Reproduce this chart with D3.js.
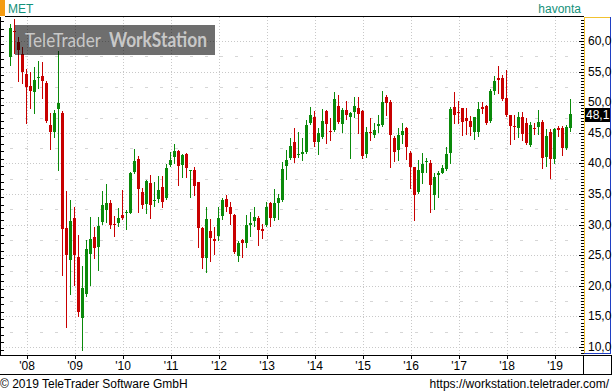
<!DOCTYPE html>
<html>
<head>
<meta charset="utf-8">
<script src="https://cdn.jsdelivr.net/npm/d3@7"></script>
<style>
html, body { margin: 0; padding: 0; background: #fff; }
svg { display: block; font-family: "Liberation Sans", Arial, sans-serif; }
</style>
</head>
<body>
<svg id="chart"></svg>
<script>
const WIDTH = 612;
const HEIGHT = 392;

// monthly candles, Sep 2007 .. May 2019
const FIRST_MONTH = new Date(2007, 8, 1);
const LAST_MONTH = new Date(2019, 4, 1);

const OPEN = [
  57.4, 61.6, 59.9, 57.8, 54.6, 52.7, 51.6, 54.0, 54.3, 53.1, 46.3, 45.2, 48.9, 48.2, 29.4, 24.2,
  31.1, 24.7, 14.7, 18.7, 25.2, 28.0, 26.3, 30.4, 32.4, 33.5, 30.1, 30.3, 31.6, 31.9, 31.9, 38.6,
  40.7, 35.3, 33.4, 36.8, 33.9, 34.2, 36.1, 34.3, 39.7, 41.0, 42.0, 39.7, 41.5, 38.8, 38.9, 37.0,
  29.4, 24.5, 29.0, 27.6, 28.1, 31.4, 34.2, 32.9, 31.6, 24.9, 27.5, 27.0, 30.0, 30.6, 31.1, 29.3,
  29.9, 33.5, 31.1, 33.5, 34.0, 39.6, 40.9, 43.5, 41.5, 41.5, 41.9, 46.6, 47.6, 43.5, 44.3, 48.5,
  45.3, 45.5, 49.4, 46.5, 48.8, 47.6, 48.4, 49.1, 48.5, 41.5, 45.1, 44.7, 46.1, 46.3, 50.9, 50.1,
  44.2, 42.2, 44.6, 45.8, 41.7, 39.4, 35.3, 38.4, 40.2, 40.1, 34.8, 38.1, 38.4, 39.1, 41.7, 49.2,
  48.4, 49.1, 47.4, 46.9, 45.1, 45.1, 49.2, 49.4, 46.9, 51.8, 54.0, 54.0, 50.7, 47.9, 46.1, 45.8,
  47.6, 46.6, 43.0, 45.8, 45.9, 46.8, 41.0, 45.1, 40.7, 45.8, 45.8, 42.5, 45.8
];
const HIGH = [
  62.8, 63.6, 60.7, 59.0, 55.4, 55.0, 55.8, 56.7, 56.6, 53.4, 48.3, 48.7, 58.4, 48.5, 35.5, 34.0,
  32.9, 28.3, 23.2, 27.5, 31.2, 29.6, 31.2, 35.5, 36.6, 34.0, 31.4, 32.7, 35.7, 32.4, 38.6, 42.4,
  41.2, 36.0, 37.3, 38.1, 37.0, 37.9, 37.9, 39.9, 41.9, 43.2, 42.2, 41.5, 41.7, 38.9, 39.4, 37.0,
  29.6, 32.9, 30.9, 29.6, 32.9, 34.3, 34.8, 33.7, 31.7, 27.3, 27.6, 31.6, 32.1, 32.9, 31.4, 30.1,
  33.7, 33.7, 35.8, 35.0, 40.2, 42.2, 44.1, 45.8, 45.1, 44.1, 47.1, 49.2, 48.6, 45.8, 48.9, 48.7,
  47.4, 51.7, 51.2, 49.1, 50.2, 48.4, 50.9, 50.9, 48.7, 45.9, 47.4, 46.6, 47.9, 51.8, 51.2, 50.4,
  44.5, 45.8, 46.6, 45.9, 42.0, 39.4, 40.6, 41.7, 40.9, 40.6, 38.4, 38.8, 39.7, 42.7, 49.2, 51.7,
  50.2, 49.1, 49.1, 47.7, 47.6, 50.0, 50.0, 49.5, 52.2, 54.3, 55.9, 54.4, 55.3, 47.9, 47.9, 48.4,
  48.4, 47.4, 46.8, 46.6, 48.7, 47.1, 45.6, 45.6, 45.8, 46.1, 46.1, 46.3, 50.5
];
const LOW = [
  56.1, 58.0, 53.4, 53.1, 46.6, 49.0, 48.2, 52.3, 50.7, 46.7, 42.4, 44.3, 38.9, 21.8, 13.3, 18.7,
  20.1, 15.1,  9.5, 18.3, 20.1, 24.5, 22.6, 30.1, 30.4, 29.4, 28.1, 29.8, 30.9, 29.3, 31.9, 38.4,
  32.1, 32.7, 31.9, 31.1, 33.0, 33.7, 32.9, 34.2, 39.6, 40.1, 36.5, 37.8, 37.8, 34.5, 34.8, 26.3,
  22.9, 22.3, 24.1, 25.2, 27.5, 30.9, 32.2, 30.1, 25.4, 24.1, 24.7, 26.3, 28.1, 29.8, 26.7, 27.8,
  29.8, 29.8, 30.8, 30.9, 33.9, 37.5, 40.7, 40.2, 41.0, 40.6, 41.7, 46.4, 42.8, 41.5, 44.2, 43.3,
  43.8, 45.3, 46.6, 45.1, 47.3, 40.9, 47.6, 45.0, 40.9, 41.0, 43.8, 44.3, 45.1, 46.1, 47.9, 39.4,
  40.4, 40.6, 43.3, 40.7, 36.0, 30.8, 35.2, 36.8, 38.6, 32.1, 32.5, 34.5, 38.4, 38.9, 40.1, 46.6,
  46.6, 44.6, 44.8, 44.6, 44.0, 44.5, 48.2, 46.4, 46.8, 51.3, 51.5, 50.4, 47.7, 43.2, 44.0, 44.3,
  43.8, 43.2, 42.8, 44.8, 44.8, 39.2, 39.6, 37.6, 40.1, 44.5, 41.4, 42.4, 45.3
];
const CLOSE = [
  62.2, 61.4, 58.5, 55.0, 52.5, 51.9, 53.6, 54.1, 53.5, 46.9, 45.2, 48.3, 49.8, 29.3, 25.0, 30.6,
  25.0, 15.7, 19.6, 26.0, 27.6, 26.2, 29.8, 33.2, 33.5, 29.9, 30.0, 31.1, 31.1, 32.1, 38.4, 40.4,
  35.8, 33.2, 37.1, 33.2, 34.0, 35.7, 33.7, 39.2, 40.6, 42.0, 39.6, 41.4, 39.2, 38.9, 36.3, 29.4,
  24.5, 30.9, 27.8, 27.4, 31.1, 34.0, 32.9, 31.7, 25.5, 27.0, 27.0, 29.9, 30.2, 31.2, 29.1, 29.0,
  32.9, 31.1, 33.5, 34.3, 39.1, 40.6, 42.8, 40.9, 41.6, 41.9, 46.3, 47.9, 43.5, 45.0, 46.9, 46.4,
  45.2, 50.6, 46.8, 48.8, 47.9, 48.3, 49.3, 48.1, 41.2, 45.2, 45.0, 45.5, 46.4, 50.1, 49.8, 44.6,
  41.9, 44.7, 45.3, 42.7, 39.4, 34.8, 38.9, 39.9, 40.4, 36.5, 37.8, 38.4, 39.2, 41.5, 48.9, 47.9,
  48.3, 46.8, 46.9, 45.9, 47.6, 48.9, 48.9, 46.6, 51.8, 53.5, 53.6, 50.5, 47.9, 46.1, 46.0, 47.6,
  44.8, 43.3, 46.3, 45.7, 46.8, 40.9, 44.5, 40.7, 45.6, 45.5, 42.5, 45.9, 48.1
];

const Y_TICKS = [10, 15, 20, 25, 30, 35, 40, 45, 50, 55, 60];
const YEAR_LABELS = ["'08", "'09", "'10", "'11", "'12", "'13", "'14", "'15", "'16", "'17", "'18", "'19"];
const YEARS = [2008, 2009, 2010, 2011, 2012, 2013, 2014, 2015, 2016, 2017, 2018, 2019];

const UP = "#0a8a0a";
const DOWN = "#c80000";
const GRID = "#c8c8c8";

const PLOT = {left: 0, right: 583, top: 17, bottom: 355};

var svg = d3.select("#chart")
    .attr("width", WIDTH)
    .attr("height", HEIGHT)
    .attr("viewBox", `0 0 ${WIDTH} ${HEIGHT}`);

const months = d3.timeMonth.range(FIRST_MONTH, d3.timeMonth.offset(LAST_MONTH, 1));
const candles = months.map((d, i) => ({date: d, o: OPEN[i], h: HIGH[i], l: LOW[i], c: CLOSE[i]}));

var x = d3.scaleBand()
    .domain(months.map(d => +d))
    .range([8, 8 + 4 * months.length]);
const cx = (d) => Math.round(x(+d) + x.bandwidth() / 2);

var y = d3.scaleLinear()
    .domain([10, 60])
    .range([347, 41]);
const py = (v) => Math.round(y(v)) + 0.5;

const fmt = (v) => v.toFixed(1).replace(".", ",");

// header
svg.append("rect")
    .attr("x", 0).attr("y", 0)
    .attr("width", 5).attr("height", 16)
    .attr("fill", "#f59c12");

svg.append("text")
    .attr("x", 8).attr("y", 13)
    .attr("fill", "#14917a")
    .style("font-size", "12px")
    .text("MET");

svg.append("text")
    .attr("x", 581).attr("y", 13)
    .attr("text-anchor", "end")
    .attr("fill", "#14917a")
    .style("font-size", "12px")
    .text("havonta");

// grid
var grid = svg.append("g").attr("shape-rendering", "crispEdges");

grid.selectAll(".hgrid")
    .data(Y_TICKS)
    .join("line")
    .attr("x1", PLOT.left).attr("x2", PLOT.right)
    .attr("y1", d => py(d)).attr("y2", d => py(d))
    .attr("stroke", GRID)
    .attr("stroke-dasharray", "1,2");

grid.selectAll(".hhalf")
    .data(Y_TICKS.map(d => d + 2.5).filter(d => d < 62))
    .join("line")
    .attr("x1", 10).attr("x2", PLOT.right)
    .attr("y1", d => py(d)).attr("y2", d => py(d))
    .attr("stroke", "#d6d6d6")
    .attr("stroke-dasharray", "3,12");

grid.selectAll(".vgrid")
    .data(YEARS)
    .join("line")
    .attr("x1", d => cx(new Date(d, 0, 1)) + 1.5)
    .attr("x2", d => cx(new Date(d, 0, 1)) + 1.5)
    .attr("y1", PLOT.top).attr("y2", PLOT.bottom)
    .attr("stroke", GRID)
    .attr("stroke-dasharray", "1,2");

// candles
var g = svg.append("g").attr("shape-rendering", "crispEdges");

g.selectAll(".wick")
    .data(candles)
    .join("line")
    .attr("x1", d => cx(d.date) + 0.5)
    .attr("x2", d => cx(d.date) + 0.5)
    .attr("y1", d => Math.round(y(d.h)))
    .attr("y2", d => Math.round(y(d.l)) + 1)
    .attr("stroke", d => d.c >= d.o ? UP : DOWN);

g.selectAll(".body")
    .data(candles)
    .join("rect")
    .attr("x", d => cx(d.date) - 1)
    .attr("width", 3)
    .attr("y", d => Math.round(y(Math.max(d.o, d.c))))
    .attr("height", d => Math.max(1, Math.round(y(Math.min(d.o, d.c))) - Math.round(y(Math.max(d.o, d.c)))))
    .attr("fill", d => d.c >= d.o ? UP : DOWN);

// watermark
svg.append("rect")
    .attr("x", 15).attr("y", 25)
    .attr("width", 200).attr("height", 30)
    .attr("fill", "#000")
    .attr("opacity", 0.57);

svg.append("text")
    .attr("x", 25).attr("y", 47)
    .attr("fill", "#c8c8c8")
    .attr("textLength", 76)
    .attr("lengthAdjust", "spacingAndGlyphs")
    .style("font-family", "Lato, 'Open Sans', sans-serif")
    .style("font-size", "20px")
    .text("TeleTrader");

svg.append("text")
    .attr("x", 109).attr("y", 47)
    .attr("fill", "#c8c8c8")
    .attr("textLength", 98)
    .attr("lengthAdjust", "spacingAndGlyphs")
    .style("font-family", "Lato, 'Open Sans', sans-serif")
    .style("font-weight", "bold")
    .style("font-size", "20px")
    .text("WorkStation");

// frame
var frame = svg.append("g").attr("shape-rendering", "crispEdges");

frame.append("line")
    .attr("x1", 5).attr("x2", 584)
    .attr("y1", 16.5).attr("y2", 16.5)
    .attr("stroke", "#000");

frame.append("line")
    .attr("x1", 0).attr("x2", WIDTH)
    .attr("y1", PLOT.bottom + 0.5).attr("y2", PLOT.bottom + 0.5)
    .attr("stroke", "#000");

frame.append("line")
    .attr("x1", 0).attr("x2", WIDTH)
    .attr("y1", 374.5).attr("y2", 374.5)
    .attr("stroke", "#000");

frame.append("line")
    .attr("x1", 583.5).attr("x2", 583.5)
    .attr("y1", PLOT.bottom).attr("y2", 375)
    .attr("stroke", "#000");

frame.append("line")
    .attr("x1", 611.5).attr("x2", 611.5)
    .attr("y1", PLOT.bottom).attr("y2", 375)
    .attr("stroke", "#000");

// left ticks
frame.append("line")
    .attr("x1", 0.5).attr("x2", 0.5)
    .attr("y1", PLOT.top).attr("y2", PLOT.bottom)
    .attr("stroke", "#000");

frame.selectAll(".lt")
    .data(d3.range(63.25, 8.5, -1.25))
    .join("line")
    .attr("x1", 0).attr("x2", 4)
    .attr("y1", d => py(d)).attr("y2", d => py(d))
    .attr("stroke", "#000");

// right axis panel
frame.selectAll(".rt")
    .data(d3.range(9, 63.6, 0.5))
    .join("line")
    .attr("x1", d => d % 5 === 0 ? 579 : 581).attr("x2", 584)
    .attr("y1", d => py(d)).attr("y2", d => py(d))
    .attr("stroke", "#000");

frame.append("line")
    .attr("x1", 584.5).attr("x2", 584.5)
    .attr("y1", 17).attr("y2", 354)
    .attr("stroke", "#f2c230");

frame.append("line")
    .attr("x1", 584).attr("x2", 611)
    .attr("y1", 17.5).attr("y2", 17.5)
    .attr("stroke", "#f2c230");

frame.append("line")
    .attr("x1", 610.5).attr("x2", 610.5)
    .attr("y1", 17).attr("y2", 354)
    .attr("stroke", "#1f3fc4");

frame.append("line")
    .attr("x1", 584).attr("x2", 611)
    .attr("y1", 353.5).attr("y2", 353.5)
    .attr("stroke", "#1f3fc4");

svg.selectAll(".ylab")
    .data(Y_TICKS)
    .join("text")
    .attr("x", 588)
    .attr("y", d => y(d) + 4)
    .attr("fill", "#000")
    .style("font-size", "12px")
    .text(d => fmt(d));

const last = CLOSE[CLOSE.length - 1];
svg.append("rect")
    .attr("x", 585).attr("y", Math.round(y(last)) - 6)
    .attr("width", 25).attr("height", 14)
    .attr("fill", "#000");

svg.append("text")
    .attr("x", 586).attr("y", y(last) + 5)
    .attr("fill", "#fff")
    .style("font-size", "12px")
    .text(fmt(last));

// x axis
frame.selectAll(".xt")
    .data(YEARS)
    .join("line")
    .attr("x1", d => cx(new Date(d, 0, 1)) + 1.5)
    .attr("x2", d => cx(new Date(d, 0, 1)) + 1.5)
    .attr("y1", PLOT.bottom).attr("y2", PLOT.bottom + 4)
    .attr("stroke", "#000");

svg.selectAll(".xlab")
    .data(YEARS)
    .join("text")
    .attr("x", d => cx(new Date(d, 0, 1)) + 1)
    .attr("y", 370)
    .attr("text-anchor", "middle")
    .style("font-size", "12px")
    .text((d, i) => YEAR_LABELS[i]);

// footer
svg.append("text")
    .attr("x", 0).attr("y", 388)
    .style("font-size", "12px")
    .text("© 2019 TeleTrader Software GmbH");

svg.append("text")
    .attr("x", 609).attr("y", 388)
    .attr("text-anchor", "end")
    .style("font-size", "12px")
    .text("https://workstation.teletrader.com/");
</script>
</body>
</html>
